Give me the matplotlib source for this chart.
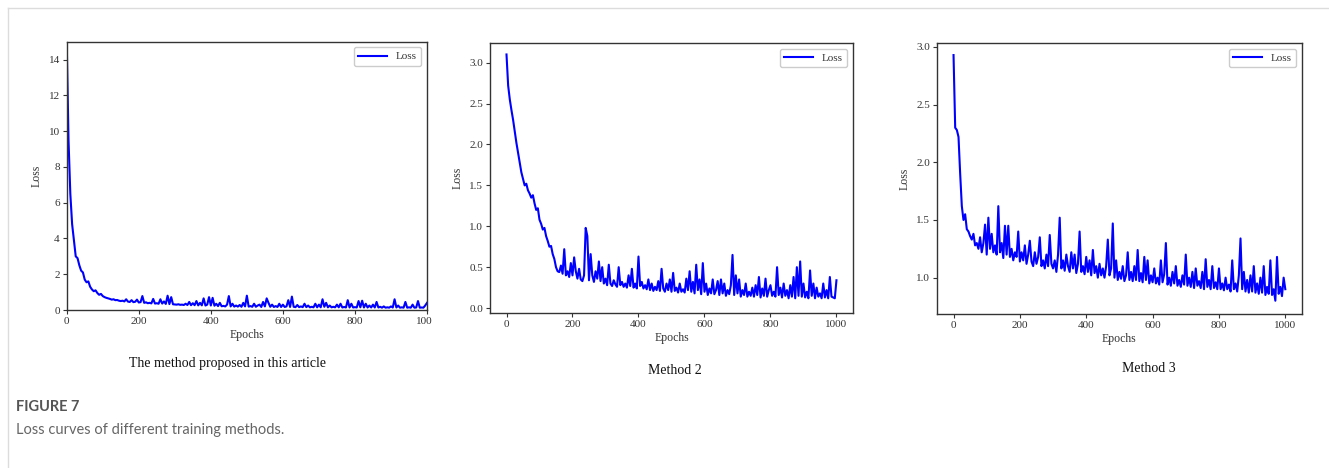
import matplotlib
matplotlib.use('Agg')
import matplotlib.pyplot as plt
import numpy as np
from matplotlib.lines import Line2D
from matplotlib.transforms import Bbox, TransformedBbox

# Datos (un valor cada 5 epochs, 0..1000)
step = 5

loss_proposed = [
    15.0, 9.5, 6.5, 4.8, 3.9, 3.0, 2.9, 2.5, 2.2, 2.1,
    1.7, 1.55, 1.6, 1.3, 1.15, 1.05, 1.1, 0.95, 0.85, 0.9,
    0.78, 0.72, 0.68, 0.65, 0.62, 0.58, 0.60, 0.55, 0.56, 0.52,
    0.50, 0.52, 0.48, 0.60, 0.47, 0.45, 0.55, 0.44, 0.46, 0.58,
    0.42, 0.44, 0.78, 0.40, 0.43, 0.38, 0.40, 0.37, 0.62, 0.36,
    0.38, 0.35, 0.60, 0.36, 0.48, 0.34, 0.80, 0.33, 0.72, 0.32,
    0.31, 0.30, 0.32, 0.29, 0.30, 0.28, 0.35, 0.28, 0.45, 0.27,
    0.38, 0.27, 0.50, 0.26, 0.40, 0.26, 0.65, 0.25, 0.30, 0.72,
    0.25, 0.68, 0.24, 0.35, 0.22, 0.40, 0.21, 0.23, 0.20, 0.30,
    0.78, 0.20, 0.35, 0.19, 0.25, 0.19, 0.28, 0.18, 0.40, 0.20,
    0.80, 0.19, 0.22, 0.18, 0.35, 0.18, 0.25, 0.30, 0.17, 0.45,
    0.20, 0.65, 0.40, 0.18, 0.30, 0.17, 0.22, 0.17, 0.35, 0.17,
    0.30, 0.17, 0.20, 0.55, 0.17, 0.75, 0.18, 0.16, 0.28, 0.16,
    0.20, 0.16, 0.35, 0.16, 0.25, 0.15, 0.18, 0.15, 0.35, 0.15,
    0.30, 0.15, 0.60, 0.18, 0.40, 0.15, 0.25, 0.15, 0.18, 0.15,
    0.30, 0.15, 0.35, 0.14, 0.17, 0.14, 0.55, 0.14, 0.35, 0.14,
    0.16, 0.14, 0.50, 0.15, 0.52, 0.14, 0.35, 0.14, 0.25, 0.14,
    0.30, 0.14, 0.45, 0.14, 0.18, 0.13, 0.20, 0.13, 0.15, 0.13,
    0.20, 0.14, 0.60, 0.14, 0.25, 0.13, 0.15, 0.13, 0.45, 0.13,
    0.15, 0.13, 0.30, 0.13, 0.14, 0.50, 0.13, 0.14, 0.13, 0.25,
    0.40,
]

loss_method2 = [
    3.10, 2.72, 2.55, 2.42, 2.30, 2.16, 2.02, 1.90, 1.78, 1.66,
    1.58, 1.50, 1.52, 1.44, 1.40, 1.35, 1.38, 1.28, 1.20, 1.22,
    1.08, 1.03, 0.96, 0.98, 0.88, 0.82, 0.75, 0.76, 0.66, 0.60,
    0.50, 0.45, 0.44, 0.52, 0.42, 0.72, 0.40, 0.45, 0.38, 0.55,
    0.40, 0.62, 0.45, 0.36, 0.48, 0.35, 0.33, 0.40, 0.98, 0.88,
    0.34, 0.66, 0.40, 0.32, 0.45, 0.36, 0.57, 0.33, 0.50, 0.30,
    0.36, 0.28, 0.53, 0.30, 0.27, 0.34, 0.29, 0.26, 0.50, 0.28,
    0.32, 0.26, 0.30, 0.25, 0.40, 0.27, 0.48, 0.25, 0.30, 0.24,
    0.63, 0.27, 0.32, 0.24, 0.28, 0.23, 0.35, 0.22, 0.30, 0.21,
    0.26, 0.22, 0.33, 0.21, 0.48, 0.24, 0.20, 0.30, 0.22, 0.35,
    0.20, 0.43, 0.21, 0.25, 0.19, 0.30, 0.20, 0.23, 0.19, 0.36,
    0.22, 0.45, 0.20, 0.32, 0.18, 0.53, 0.22, 0.35, 0.17, 0.55,
    0.20, 0.30, 0.16, 0.24, 0.18, 0.35, 0.17, 0.22, 0.33, 0.16,
    0.35, 0.18, 0.30, 0.15, 0.22, 0.17, 0.28, 0.65, 0.16, 0.40,
    0.18, 0.35, 0.14, 0.22, 0.16, 0.30, 0.14, 0.20, 0.15, 0.25,
    0.14, 0.28, 0.16, 0.38, 0.13, 0.24, 0.15, 0.36, 0.14, 0.22,
    0.28, 0.15, 0.20, 0.14, 0.50, 0.16, 0.25, 0.13, 0.30, 0.15,
    0.22, 0.12, 0.28, 0.14, 0.38, 0.12, 0.50, 0.15, 0.57, 0.14,
    0.30, 0.13, 0.20, 0.12, 0.46, 0.15, 0.30, 0.12, 0.25, 0.14,
    0.18, 0.12, 0.30, 0.13, 0.22, 0.12, 0.38, 0.14, 0.13, 0.12,
    0.34,
]

loss_method3 = [
    2.93, 2.30, 2.28, 2.22, 1.90, 1.62, 1.50, 1.55, 1.42, 1.40,
    1.36, 1.33, 1.38, 1.28, 1.30, 1.25, 1.35, 1.22, 1.30, 1.46,
    1.20, 1.52, 1.25, 1.38, 1.22, 1.28, 1.20, 1.62, 1.22, 1.30,
    1.17, 1.45, 1.20, 1.45, 1.18, 1.25, 1.15, 1.22, 1.18, 1.40,
    1.14, 1.22, 1.15, 1.28, 1.12, 1.20, 1.32, 1.14, 1.10, 1.22,
    1.12, 1.18, 1.35, 1.10, 1.15, 1.08, 1.20, 1.10, 1.37, 1.12,
    1.08, 1.15, 1.05, 1.20, 1.52, 1.08, 1.15, 1.06, 1.20, 1.10,
    1.05, 1.22, 1.08, 1.20, 1.04, 1.12, 1.40, 1.05, 1.10, 1.03,
    1.18, 1.05, 1.15, 1.02, 1.24, 1.04, 1.10, 1.00, 1.12, 1.02,
    1.08, 1.00, 1.10, 1.33, 1.02, 1.08, 1.47, 1.00, 1.15, 0.98,
    1.05, 0.99, 1.10, 0.97, 1.02, 1.22, 0.98, 1.05, 0.97, 1.10,
    0.98, 1.24, 0.97, 1.04, 0.96, 1.18, 0.98, 1.15, 0.95, 1.02,
    0.96, 1.08, 0.95, 1.00, 0.94, 1.15, 0.96, 1.03, 1.30, 0.94,
    1.00, 0.93, 1.05, 0.95, 1.10, 0.93, 0.98, 0.92, 1.02, 0.94,
    1.20, 0.93, 1.00, 0.92, 1.05, 0.91, 1.08, 0.93, 0.97, 0.91,
    1.05, 0.90, 1.16, 0.92, 0.98, 0.90, 1.10, 0.91, 0.96, 0.90,
    1.08, 0.90, 0.95, 0.89, 1.00, 0.90, 0.94, 0.88, 1.15, 0.90,
    0.95, 0.88, 1.02, 1.34, 0.90, 1.05, 0.88, 0.98, 0.87, 1.02,
    0.88, 1.10, 0.87, 0.95, 0.86, 1.00, 0.87, 1.10, 0.85, 0.92,
    0.86, 1.15, 0.85, 0.90, 0.80, 1.18, 0.86, 0.92, 0.84, 1.00,
    0.90,
]

captions = ['The method proposed in this article', 'Method 2', 'Method 3']
xticks = [0, 200, 400, 600, 800, 1000]
yticks_proposed = [0, 2, 4, 6, 8, 10, 12, 14]
yticks_method2 = [0.0, 0.5, 1.0, 1.5, 2.0, 2.5, 3.0]
yticks_method3 = [1.0, 1.5, 2.0, 2.5, 3.0]

serif = 'Liberation Serif'

fig = plt.figure(figsize=(13.29, 4.68), dpi=100)

# Borde gris de la tarjeta
fig.add_artist(Line2D([8 / 1329, 8 / 1329], [0, 1 - 8 / 468], color='#dcdcdc', lw=1))
fig.add_artist(Line2D([8 / 1329, 1], [1 - 8 / 468, 1 - 8 / 468], color='#dcdcdc', lw=1))

positions = [
    [0.0502, 0.3376, 0.2711, 0.5733],
    [0.3687, 0.3312, 0.2731, 0.5769],
    [0.7050, 0.3291, 0.2746, 0.5791],
]
series = [loss_proposed, loss_method2, loss_method3]
yticks_all = [yticks_proposed, yticks_method2, yticks_method3]
ylims = [(0, 15), (-0.06, 3.24), (0.685, 3.035)]
xlims = [(0, 1000), (-50, 1050), (-50, 1050)]

axes = []
for i in range(3):
    ax = fig.add_axes(positions[i])
    epochs = np.arange(len(series[i])) * step
    ax.plot(epochs, series[i], color='#0000ff', lw=1.5, label='Loss')
    ax.set_xlim(*xlims[i])
    ax.set_ylim(*ylims[i])
    ax.set_xticks(xticks)
    ax.set_yticks(yticks_all[i])
    if i == 0:
        ax.set_yticklabels([str(t) for t in yticks_all[i]])
    else:
        ax.set_yticklabels(['%.1f' % t for t in yticks_all[i]])
    ax.tick_params(labelsize=8, length=3, width=0.8, color='#333333', pad=2)
    for lab in ax.get_xticklabels() + ax.get_yticklabels():
        lab.set_fontfamily(serif)
        lab.set_color('#333333')
    for sp in ax.spines.values():
        sp.set_color('#333333')
        sp.set_linewidth(1.0)
    ax.set_xlabel('Epochs', fontfamily=serif, fontsize=8.5, color='#333333', labelpad=2)
    ax.set_ylabel('Loss', fontfamily=serif, fontsize=8.5, color='#333333', labelpad=4)
    leg = ax.legend(loc='upper right', handlelength=2.6,
                    borderpad=0.4, framealpha=1, edgecolor='#cccccc',
                    prop={'family': serif, 'size': 8})
    for t in leg.get_texts():
        t.set_color('#333333')
    axes.append(ax)

# La primera figura está recortada en el borde derecho ("1000" se ve "100")
fig.canvas.draw()
last = axes[0].get_xticklabels()[-1]
clip = TransformedBbox(Bbox([[-0.2, -0.3], [1.013, 0.0]]), axes[0].transAxes)
last.set_clip_box(clip)
last.set_clip_on(True)

# Subtítulos bajo cada gráfico
caption_pos = [(227, 364), (675, 370), (1149, 368)]
for (cx, cy), txt in zip(caption_pos, captions):
    fig.text(cx / 1329, 1 - cy / 468, txt, ha='center', va='center',
             fontfamily=serif, fontsize=10, color='#111111')

fig.text(16 / 1329, 1 - 407 / 468, 'FIGURE 7', ha='left', va='center',
         fontfamily='Lato', fontsize=10.5, fontweight='bold', color='#555555')
fig.text(16 / 1329, 1 - 430 / 468, 'Loss curves of different training methods.',
         ha='left', va='center', fontfamily='Lato', fontsize=10.5, color='#666666')

plt.savefig('out.png', dpi=100)
